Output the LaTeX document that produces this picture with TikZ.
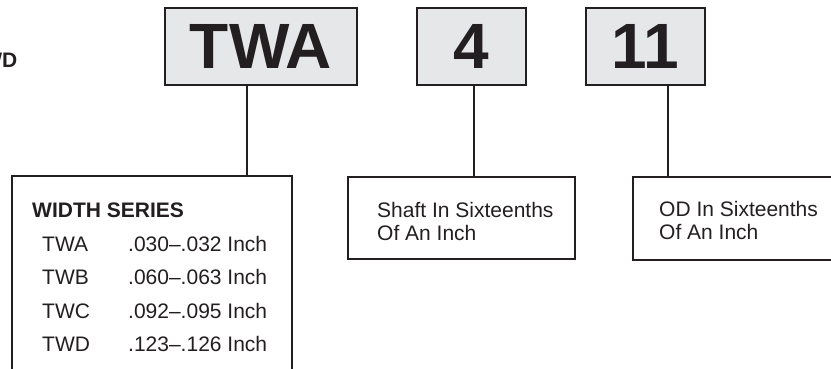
\documentclass[tikz,border=0pt]{standalone}
\usepackage{fontspec}
\setmainfont{Liberation Sans}
\definecolor{ink}{HTML}{231F20}
\definecolor{boxgray}{HTML}{E6E7E8}
\tikzset{
  codebox/.style={draw=ink, fill=boxgray, line width=2.5pt, inner sep=0pt, text=ink,
    font=\fontsize{64}{64}\selectfont\bfseries},
  infobox/.style={draw=ink, line width=2pt, inner sep=0pt},
  conn/.style={draw=ink, line width=2pt},
  lbl/.style={inner sep=0pt, text=ink, anchor=base west, font=\fontsize{21}{23}\selectfont},
  hdr/.style={lbl, font=\fontsize{21}{23}\selectfont\bfseries},
}
\begin{document}
\begin{tikzpicture}[x=1pt,y=-1pt]
\useasboundingbox (0,0) rectangle (831,369);
% clipped heading at top-left
\node[hdr, anchor=base east] (cut) at (17.5,68) {WD};
% code boxes
\node[codebox, minimum width=192pt, minimum height=77pt] (twa) at (261,46.5) {TWA};
\node[codebox, minimum width=109pt, minimum height=77pt] (four) at (471.5,46.5) {4};
\node[codebox, minimum width=119pt, minimum height=77pt] (eleven) at (645.5,46.5) {11};
% info boxes
\node[infobox, minimum width=280pt, minimum height=240pt] (ws) at (152,296) {};
\node[infobox, minimum width=227pt, minimum height=82pt] (shaft) at (461.5,218) {};
\node[infobox, minimum width=260pt, minimum height=83pt] (od) at (763,218.5) {};
% connectors
\draw[conn] ([xshift=-14pt]twa.south) -- ([xshift=-14pt]twa.south |- ws.north);
\draw[conn] ([xshift=2.5pt]four.south) -- ([xshift=2.5pt]four.south |- shaft.north);
\draw[conn] ([xshift=22.5pt]eleven.south) -- ([xshift=22.5pt]eleven.south |- od.north);
% width series text
\node[hdr] (wshdr) at (32,217) {WIDTH SERIES};
\node[lbl] (ra) at (42,251) {TWA};
\node[lbl] (va) at (128,251) {.030–.032 Inch};
\node[lbl] (rb) at (42,284.5) {TWB};
\node[lbl] (vb) at (128,284.5) {.060–.063 Inch};
\node[lbl] (rc) at (42,318) {TWC};
\node[lbl] (vc) at (128,318) {.092–.095 Inch};
\node[lbl] (rd) at (42,351.5) {TWD};
\node[lbl] (vd) at (128,351.5) {.123–.126 Inch};
% shaft text
\node[lbl] (s1) at (377,217) {Shaft In Sixteenths};
\node[lbl] (s2) at (377,240) {Of An Inch};
% od text
\node[lbl] (o1) at (659,216.5) {OD In Sixteenths};
\node[lbl] (o2) at (659,239.5) {Of An Inch};
\end{tikzpicture}
\end{document}
